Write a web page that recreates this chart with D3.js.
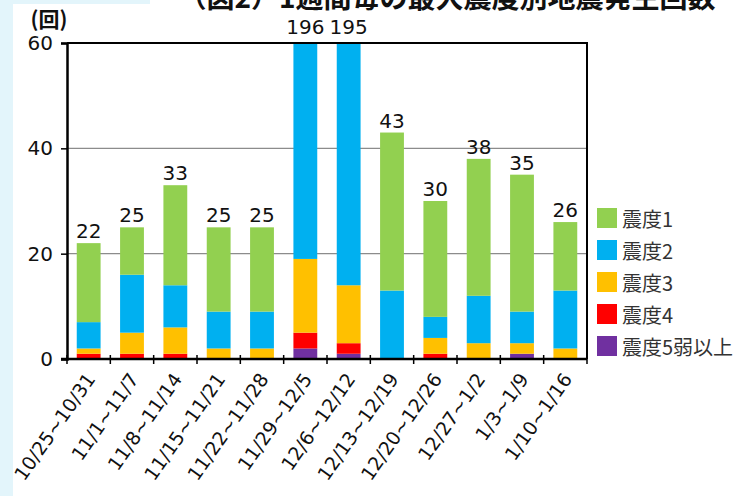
<!DOCTYPE html>
<html>
<head>
<meta charset="utf-8">
<script src="https://cdn.jsdelivr.net/npm/d3@7"></script>
<style>
  body { margin: 0; background: #fff; }
  svg { display: block; font-family: "Noto Sans CJK JP", "Noto Sans", sans-serif; }
</style>
</head>
<body>
<svg id="chart" width="755" height="496"></svg>
<script>
// weekly counts by max intensity (bars 6 and 7 are clipped at 60)
const weeks = ['10/25~10/31', '11/1~11/7', '11/8~11/14', '11/15~11/21', '11/22~11/28', '11/29~12/5',
  '12/6~12/12', '12/13~12/19', '12/20~12/26', '12/27~1/2', '1/3~1/9', '1/10~1/16'];
const shindo1 = [15, 9, 19, 16, 16, 117, 126, 30, 22, 26, 26, 13];
const shindo2 = [5, 11, 8, 7, 7, 60, 55, 13, 4, 9, 6, 11];
const shindo3 = [1, 4, 5, 2, 2, 14, 11, 0, 3, 3, 2, 2];
const shindo4 = [1, 1, 1, 0, 0, 3, 2, 0, 1, 0, 0, 0];
const shindo5 = [0, 0, 0, 0, 0, 2, 1, 0, 0, 0, 1, 0];
const yTicks = [0, 20, 40, 60];

const keys = ['s5', 's4', 's3', 's2', 's1'];
const names = { s1: '震度1', s2: '震度2', s3: '震度3', s4: '震度4', s5: '震度5弱以上' };
const colors = { s1: '#92D050', s2: '#00B0F0', s3: '#FFC000', s4: '#FF0000', s5: '#7030A0' };

const rows = weeks.map((w, i) => ({
  week: w, s1: shindo1[i], s2: shindo2[i], s3: shindo3[i], s4: shindo4[i], s5: shindo5[i]
}));

const numFont = '"DejaVu Sans", Verdana, sans-serif';
const svg = d3.select('#chart');
const plot = { left: 67, right: 587, top: 43, bottom: 359 };

// slide background bits
svg.append('rect').attr('x', 0).attr('y', 0).attr('width', 13).attr('height', 496).attr('fill', '#e3f5fb');
svg.append('rect').attr('x', 0).attr('y', 0).attr('width', 150).attr('height', 4).attr('fill', '#e3f5fb');

const x = d3.scaleBand().domain(weeks).range([plot.left, plot.right]).paddingInner(0.45).paddingOuter(0.225);
const y = d3.scaleLinear().domain([0, 60]).range([plot.bottom, plot.top]);

// title (cut off at the top in the original)
svg.append('text')
  .attr('x', 447).attr('y', 8)
  .attr('text-anchor', 'middle')
  .attr('font-size', 28).attr('font-weight', 'bold').attr('fill', '#111')
  .text('（図2）1週間毎の最大震度別地震発生回数');

svg.append('text')
  .attr('x', 49).attr('y', 27)
  .attr('text-anchor', 'middle')
  .attr('font-size', 21).attr('font-weight', 'bold').attr('fill', '#111')
  .text('(回)');

// gridlines
svg.append('g').selectAll('line')
  .data([20, 40])
  .join('line')
  .attr('x1', plot.left).attr('x2', plot.right)
  .attr('y1', d => y(d)).attr('y2', d => y(d))
  .attr('stroke', '#8c8c8c').attr('stroke-width', 1.2);

svg.append('clipPath').attr('id', 'plotclip')
  .append('rect').attr('x', plot.left).attr('y', plot.top)
  .attr('width', plot.right - plot.left).attr('height', plot.bottom - plot.top);

const stacked = d3.stack().keys(keys)(rows);

svg.append('g').attr('clip-path', 'url(#plotclip)')
  .selectAll('g')
  .data(stacked)
  .join('g')
  .attr('fill', d => colors[d.key])
  .selectAll('rect')
  .data(d => d)
  .join('rect')
  .attr('x', d => x(d.data.week))
  .attr('width', x.bandwidth())
  .attr('y', d => y(d[1]))
  .attr('height', d => y(d[0]) - y(d[1]));

// totals above bars
svg.append('g').selectAll('text')
  .data(rows)
  .join('text')
  .attr('x', d => x(d.week) + x.bandwidth() / 2)
  .attr('y', d => {
    const t = d3.sum(keys, k => d[k]);
    return y(Math.min(t, 60)) - (t > 60 ? 9 : 5);
  })
  .attr('text-anchor', 'middle')
  .attr('font-size', 20).attr('fill', '#111')
  .style('font-family', numFont)
  .text(d => d3.sum(keys, k => d[k]));

// frame
svg.append('path')
  .attr('d', `M${plot.left},${plot.top}H${plot.right}V${plot.bottom}`)
  .attr('fill', 'none').attr('stroke', '#000').attr('stroke-width', 2);

// y axis
const yAxis = svg.append('g').attr('transform', `translate(${plot.left},0)`)
  .call(d3.axisLeft(y).tickValues(yTicks).tickSize(6).tickPadding(8));
yAxis.select('.domain').attr('stroke-width', 2.5);
yAxis.selectAll('.tick line').attr('stroke-width', 1.5);
yAxis.selectAll('text').attr('font-size', 20).attr('fill', '#111')
  .style('font-family', numFont);

// x axis: line plus ticks between categories
const step = x.step();
svg.append('line')
  .attr('x1', plot.left - 6).attr('x2', plot.right)
  .attr('y1', plot.bottom).attr('y2', plot.bottom)
  .attr('stroke', '#000').attr('stroke-width', 2.5);
svg.append('g').selectAll('line')
  .data(d3.range(weeks.length + 1))
  .join('line')
  .attr('x1', i => plot.left + i * step).attr('x2', i => plot.left + i * step)
  .attr('y1', plot.bottom - 4).attr('y2', plot.bottom + 5)
  .attr('stroke', '#000').attr('stroke-width', 1.5);

svg.append('g').selectAll('text')
  .data(weeks)
  .join('text')
  .attr('transform', d => `translate(${x(d) + x.bandwidth() / 2 + 3},${plot.bottom + 17}) rotate(-55)`)
  .attr('text-anchor', 'end')
  .attr('dominant-baseline', 'middle')
  .attr('font-size', 19).attr('fill', '#111')
  .style('font-family', numFont)
  .text(d => d);

// legend
const legend = svg.append('g').selectAll('g')
  .data(keys.slice().reverse())
  .join('g')
  .attr('transform', (d, i) => `translate(597,${208 + i * 32})`);
legend.append('rect')
  .attr('width', 20).attr('height', 20)
  .attr('fill', d => colors[d]);
legend.append('text')
  .attr('x', 25).attr('y', 10)
  .attr('dominant-baseline', 'central')
  .attr('font-size', 20).attr('fill', '#333')
  .text(d => names[d]);
</script>
</body>
</html>
